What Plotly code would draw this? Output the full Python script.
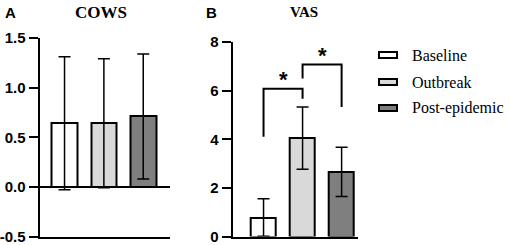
import plotly.graph_objects as go

# ---- data ----
groups = ["Baseline", "Outbreak", "Post-epidemic"]
colors = ["#ffffff", "#d9d9d9", "#7f7f7f"]

cows_mean = [0.64, 0.64, 0.71]
cows_err = [0.67, 0.65, 0.63]

vas_mean = [0.78, 4.05, 2.66]
vas_err = [0.77, 1.28, 1.01]

cows_ticks = [-0.5, 0.0, 0.5, 1.0, 1.5]
cows_ticktext = ["-0.5", "0.0", "0.5", "1.0", "1.5"]
vas_ticks = [0, 2, 4, 6, 8]

# significance brackets: (left idx, right idx, left leg bottom, top, right leg bottom, star y)
sig_left = [0, 1]
sig_right = [1, 2]
sig_left_bottom = [4.1, 6.5]
sig_top = [6.08, 7.07]
sig_right_bottom = [5.67, 5.33]
sig_star_y = [6.45, 7.45]

W, H = 510, 245
def px(x):
    return x / W
def py(y):
    return 1 - y / H

fig = go.Figure()

err_style = dict(type="data", visible=True, color="black", thickness=1.5, width=6)

fig.add_trace(go.Bar(
    x=[0, 1, 2], y=cows_mean,
    error_y=dict(array=cows_err, **err_style),
    marker=dict(color=colors, line=dict(color="black", width=2)),
    width=0.65, xaxis="x", yaxis="y", showlegend=False, hoverinfo="skip",
))
fig.add_trace(go.Bar(
    x=[0, 1, 2], y=vas_mean,
    error_y=dict(array=vas_err, **err_style),
    marker=dict(color=colors, line=dict(color="black", width=2)),
    width=0.64, xaxis="x2", yaxis="y2", showlegend=False, hoverinfo="skip",
))

# brackets
for l, r, lb, t, rb, sy in zip(sig_left, sig_right, sig_left_bottom, sig_top, sig_right_bottom, sig_star_y):
    fig.add_trace(go.Scatter(
        x=[l, l, r, r], y=[lb, t, t, rb], mode="lines",
        line=dict(color="black", width=2), xaxis="x2", yaxis="y2",
        showlegend=False, hoverinfo="skip",
    ))
    fig.add_annotation(x=(l + r) / 2, y=sy, xref="x2", yref="y2", text="*",
                       showarrow=False, xanchor="center", yanchor="middle",
                       font=dict(family="Arial", size=22, color="black", weight="bold"))

axis_common = dict(showline=True, linecolor="black", linewidth=2, ticks="outside",
                   ticklen=9, tickwidth=2, tickcolor="black", showgrid=False,
                   automargin=False,
                   tickfont=dict(family="Arial", size=15, color="black", weight="bold"))

fig.update_layout(
    template="none",
    width=W, height=H, autosize=False,
    margin=dict(l=0, r=0, t=0, b=0, pad=0),
    paper_bgcolor="white", plot_bgcolor="white",
    showlegend=False,
    bargap=0,
    xaxis=dict(domain=[px(39.5), px(170)], range=[-0.636, 2.68], showline=True,
               linecolor="black", linewidth=2, showticklabels=False, ticks="",
               showgrid=False, zeroline=False, anchor="y", automargin=False),
    yaxis=dict(domain=[py(236.5), py(38)], range=[-0.5, 1.5], tickvals=cows_ticks,
               ticktext=cows_ticktext, zeroline=True, zerolinecolor="black",
               zerolinewidth=2, anchor="x", **axis_common),
    xaxis2=dict(domain=[px(232.7), px(358)], range=[-0.79, 2.42], showline=True,
                linecolor="black", linewidth=2, showticklabels=False, ticks="",
                showgrid=False, zeroline=False, anchor="y2", automargin=False),
    yaxis2=dict(domain=[py(236.5), py(42)], range=[0, 8], tickvals=vas_ticks,
                zeroline=False, anchor="x2", **axis_common),
)

def label(x, y, text, family, size, weight="bold", xanchor="center"):
    fig.add_annotation(x=px(x), y=py(y), xref="paper", yref="paper", text=text,
                       showarrow=False, xanchor=xanchor, yanchor="middle",
                       font=dict(family=family, size=size, color="black", weight=weight))

# panel letters and titles
label(10, 13, "A", "Arial", 15)
label(211, 13, "B", "Arial", 15)
label(101, 13, "COWS", "Liberation Serif", 17)
label(303.5, 12, "VAS", "Liberation Serif", 15)

# legend (custom)
legend_rows_y = [55, 82, 108]
for name, col, ry in zip(groups, colors, legend_rows_y):
    fig.add_shape(type="rect", xref="paper", yref="paper",
                  x0=px(379), x1=px(397), y0=py(ry + 3), y1=py(ry - 3),
                  fillcolor=col, line=dict(color="black", width=2))
    label(410, ry, name, "Liberation Serif", 16, weight="normal", xanchor="left")

fig.write_html("out.html", config={"displayModeBar": False},
               post_script="document.body.style.margin='0';document.body.style.overflow='hidden';")
